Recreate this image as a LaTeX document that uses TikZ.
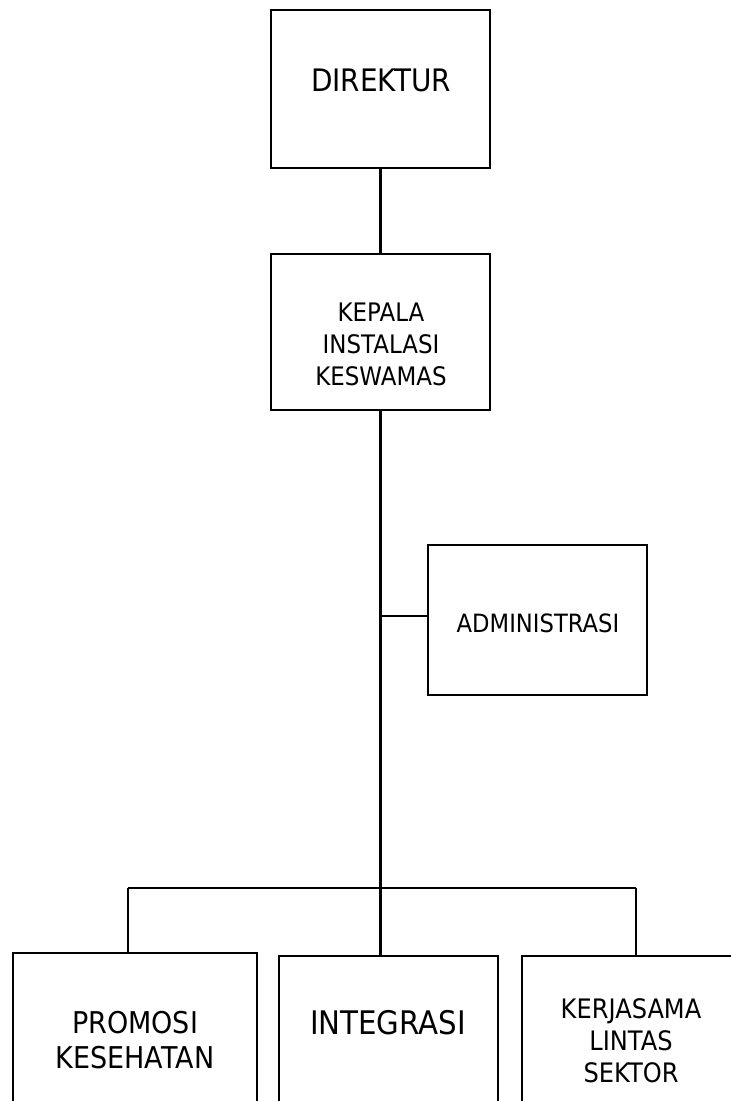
\documentclass[tikz,border=0pt]{standalone}
\usepackage{fontspec}
\setmainfont{DejaVu Sans}[FakeStretch=0.9]
\begin{document}
\begin{tikzpicture}[x=1pt, y=-1pt,
  box/.style={draw, line width=2.2pt, inner sep=0pt},
  conn/.style={line width=2.2pt},
  lbl/.style={align=center, inner sep=0pt, anchor=center}]
  % page frame
  \fill[white] (0,0) rectangle (731,1101);
  \useasboundingbox (0,0) rectangle (731,1101);

  % boxes
  \node[box, minimum width=219pt, minimum height=158pt] (dir) at (380.5,89) {};
  \node[box, minimum width=219pt, minimum height=156pt] (kep) at (380.5,332) {};
  \node[box, minimum width=219pt, minimum height=150pt] (adm) at (537.5,620) {};
  \node[box, minimum width=244pt, minimum height=200pt] (pro) at (135,1053) {};
  \node[box, minimum width=219pt, minimum height=200pt] (int) at (388.5,1056) {};
  \node[box, minimum width=238pt, minimum height=200pt] (ker) at (641,1056) {};

  % labels
  \node[lbl, font={\fontsize{31}{36}\selectfont}] (tdir) at (381,80) {DIREKTUR};
  \node[lbl, font={\fontsize{25.5}{32}\selectfont}] (tkep) at (381,344) {KEPALA\\INSTALASI\\KESWAMAS};
  \node[lbl, font={\fontsize{25.2}{31}\selectfont}] (tadm) at (538,623) {ADMINISTRASI};
  \node[lbl, font={\fontsize{30}{35}\selectfont}] (tpro) at (135,1040) {PROMOSI\\KESEHATAN};
  \node[lbl, font={\fontsize{32.5}{36}\selectfont}] (tint) at (388,1023) {INTEGRASI};
  \node[lbl, font={\fontsize{26.8}{32}\selectfont}] (tker) at (631,1041) {KERJASAMA\\LINTAS\\SEKTOR};

  % junction points of the tree
  \coordinate (tj) at (380.5,616);
  \coordinate (bar) at (380.5,888);
  \coordinate (bl) at (128,888);
  \coordinate (br) at (636,888);

  % connectors
  \draw[conn] (dir) -- (kep);
  \draw[conn] (kep.south) -- (bar);
  \draw[conn] (tj) -- (tj -| adm.west);
  \draw[conn] (bl) -- (br);
  \draw[conn] (bl) -- (bl |- pro.north);
  \draw[conn] (bar) -- (bar |- int.north);
  \draw[conn] (br) -- (br |- ker.north);
\end{tikzpicture}
\end{document}
